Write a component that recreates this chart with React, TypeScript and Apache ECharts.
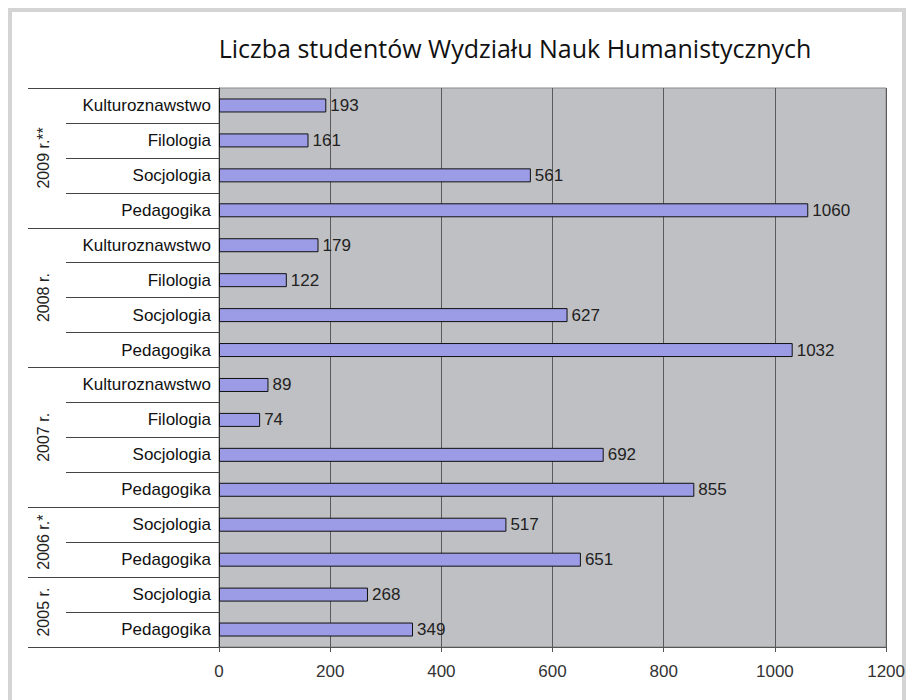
import React, { useEffect, useRef } from "react";
import * as echarts from "echarts";

const subjects = [
  "Pedagogika", "Socjologia",
  "Pedagogika", "Socjologia",
  "Pedagogika", "Socjologia", "Filologia", "Kulturoznawstwo",
  "Pedagogika", "Socjologia", "Filologia", "Kulturoznawstwo",
  "Pedagogika", "Socjologia", "Filologia", "Kulturoznawstwo",
];
const values = [349, 268, 651, 517, 855, 692, 74, 89, 1032, 627, 122, 179, 1060, 561, 161, 193];
const yearLabels = ["2005 r.", "2006 r.*", "2007 r.", "2008 r.", "2009 r.**"];
const yearCenters = [1, 3, 6, 10, 14];
const yearBounds = [0, 2, 4, 8, 12, 16];
const xTicks = [0, 200, 400, 600, 800, 1000, 1200];

export default function App() {
  const ref = useRef<HTMLDivElement>(null);
  useEffect(() => {
    if (!ref.current) return;
    const chart = echarts.init(ref.current, null, { renderer: "svg" });
    const font = "'Liberation Sans', Arial, sans-serif";
    chart.setOption({
      animation: false,
      backgroundColor: "#ffffff",
      title: {
        text: "Liczba studentów Wydziału Nauk Humanistycznych",
        left: 510,
        textAlign: "center",
        top: 30,
        textStyle: { fontFamily: "'Open Sans', sans-serif", fontSize: 25, fontWeight: "normal", color: "#111" },
      },
      graphic: [
        {
          type: "rect",
          shape: { x: 10, y: 10, width: 894, height: 700 },
          style: { fill: "none", stroke: "#d4d4d4", lineWidth: 4 },
          silent: true,
        },
      ],
      grid: {
        left: 219,
        right: 17,
        top: 88,
        bottom: 53,
        show: true,
        backgroundColor: "#bfc0c4",
        borderColor: "#8a8a8a",
        borderWidth: 1,
      },
      xAxis: {
        type: "value",
        min: 0,
        max: 1200,
        interval: 200,
        axisLine: { show: true, lineStyle: { color: "#555" } },
        axisTick: { show: true, length: 5, lineStyle: { color: "#555" } },
        splitLine: { show: true, lineStyle: { color: "#5a5a5a", width: 1 } },
        axisLabel: {
          color: "#333",
          fontFamily: font,
          fontSize: 17,
          margin: 16,
          formatter: (v: number) => (xTicks.includes(v) ? String(v) : ""),
        },
      },
      yAxis: [
        {
          type: "category",
          data: subjects,
          position: "left",
          axisLine: { show: true, lineStyle: { color: "#333" } },
          axisTick: { show: true, length: 153, lineStyle: { color: "#444" } },
          axisLabel: { color: "#111", fontFamily: font, fontSize: 17, margin: 8 },
          splitLine: { show: false },
        },
        {
          type: "value",
          min: 0,
          max: 16,
          interval: 1,
          position: "left",
          axisLine: { show: false },
          splitLine: { show: false },
          axisTick: {
            show: true,
            customValues: yearBounds,
            length: 191,
            lineStyle: { color: "#444" },
          },
          axisLabel: {
            customValues: yearCenters,
            rotate: 90,
            margin: 168,
            color: "#222",
            fontFamily: font,
            fontSize: 16,
            formatter: (v: number) => {
              const i = yearCenters.indexOf(v);
              return i >= 0 ? yearLabels[i] : "";
            },
          },
        },
      ],
      series: [
        {
          type: "bar",
          yAxisIndex: 0,
          data: values,
          barWidth: 14,
          itemStyle: { color: "#9b9be6", borderColor: "#111", borderWidth: 1 },
          label: {
            show: true,
            position: "right",
            distance: 4,
            color: "#222",
            fontFamily: font,
            fontSize: 17,
          },
        },
      ],
    });
    return () => chart.dispose();
  }, []);
  return (
    <div
      ref={ref}
      style={{ width: 908, height: 700, position: "fixed", left: 0, top: 0 }}
    />
  );
}
